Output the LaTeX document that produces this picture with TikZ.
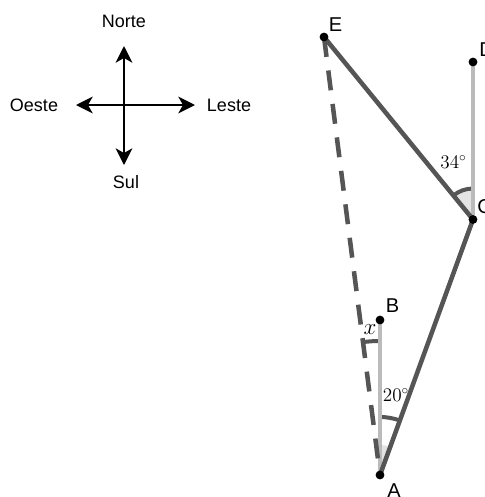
\documentclass[tikz,border=0pt]{standalone}
\usepackage{fontspec}
\setmainfont{Liberation Sans}
\usetikzlibrary{arrows.meta}
\tikzset{
  x=0.75pt,y=-0.75pt,
  lbl/.style={inner sep=0pt,font=\fontsize{13.5}{15}\selectfont},
  ptlbl/.style={inner sep=0pt,font=\fontsize{15}{17}\selectfont},
  mathlbl/.style={inner sep=0pt,font=\fontsize{14}{16}\selectfont},
  bigmath/.style={inner sep=0pt,font=\fontsize{16}{18}\selectfont},
  compass/.style={line width=1.5pt,{Stealth[length=12.5pt,width=12.5pt,inset=3.5pt]}-{Stealth[length=12.5pt,width=12.5pt,inset=3.5pt]}},
  heavy/.style={line width=3.4pt,draw=darkline},
  pale/.style={line width=3.4pt,draw=paleline},
  anglearc/.style={line width=3pt,draw=darkline},
  wedge/.style={fill=wedgefill,draw=none},
  dot/.style={circle,fill=black,inner sep=0pt,minimum size=6.6pt}
}
\definecolor{darkline}{HTML}{555555}
\definecolor{paleline}{HTML}{BBBBBB}
\definecolor{wedgefill}{HTML}{E4E4E4}
\begin{document}
\begin{tikzpicture}
\useasboundingbox (0,0) rectangle (485,497);
\clip (0,0) rectangle (485,497);
% compass
\coordinate (wW) at (76,105);
\coordinate (wE) at (195,105);
\coordinate (wN) at (124,46);
\coordinate (wS) at (124,165);
\draw[compass] (wW) -- (wE);
\draw[compass] (wN) -- (wS);
\node[lbl] (norte) at (124,21) {Norte};
\node[lbl] (oeste) at (34,105) {Oeste};
\node[lbl] (leste) at (229,105) {Leste};
\node[lbl] (sul) at (126,182) {Sul};
% points
\coordinate (A) at (380,475);
\coordinate (B) at (380,320);
\coordinate (C) at (473,219.5);
\coordinate (D) at (473,62);
\coordinate (E) at (324,37);
% wedges
\fill[wedge] (A) -- ++(0,-30) arc[start angle=-90,end angle=-70,radius=30] -- cycle;
\fill[wedge] (C) -- ++(0,-31) arc[start angle=-90,end angle=-129.3,radius=31] -- cycle;
% arcs
\draw[anglearc] (A) ++(0,-58) arc[start angle=-90,end angle=-70,radius=58];
\draw[anglearc] (A) ++(0,-134) arc[start angle=-90,end angle=-97.3,radius=134];
\draw[anglearc] (C) ++(0,-31) arc[start angle=-90,end angle=-129.3,radius=31];
% lines
\draw[pale] (A) -- (B);
\draw[pale] (C) -- (D);
\draw[heavy,dash pattern=on 15pt off 10.3pt] (E) -- (A);
\draw[heavy] (E) -- (C);
\draw[heavy] (C) -- (A);
% dots
\node[dot] (dA) at (A) {};
\node[dot] (dB) at (B) {};
\node[dot] (dC) at (C) {};
\node[dot] (dD) at (D) {};
\node[dot] (dE) at (E) {};
% labels
\node[ptlbl] (lE) at (335.5,24.5) {E};
\node[ptlbl,anchor=west] (lD) at (479,50) {D};
\node[ptlbl,anchor=west] (lC) at (477,206.5) {C};
\node[ptlbl] (lB) at (392.5,306) {B};
\node[ptlbl] (lA) at (394,491) {A};
\node[bigmath] (mx) at (370,330) {$x$};
\node[mathlbl] (m20) at (396,395) {$20^\circ$};
\node[mathlbl] (m34) at (453.5,162) {$34^\circ$};
\end{tikzpicture}
\end{document}
